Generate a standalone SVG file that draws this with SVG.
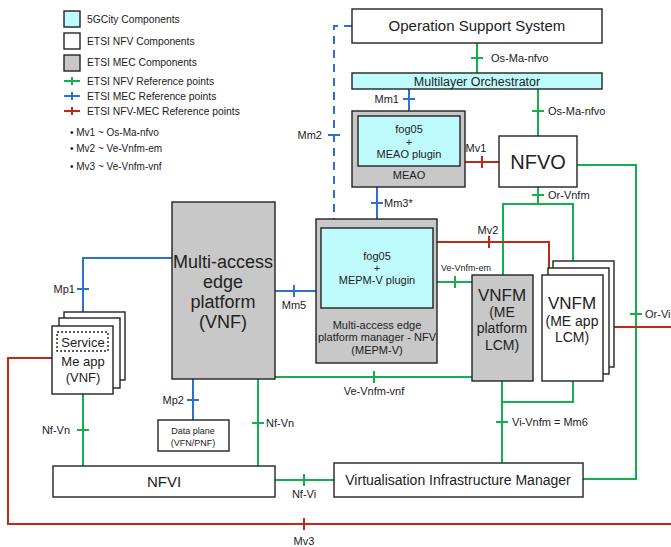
<svg xmlns="http://www.w3.org/2000/svg" width="671" height="547" viewBox="0 0 671 547">
<style>
text{font-family:"Liberation Sans",Arial,sans-serif;fill:#222}
.box{stroke:#222;stroke-width:1.4}
.w{fill:#fff}.g{fill:#c8c8c8}.c{fill:#bffbfc}
.ln{fill:none;stroke-width:2}
.gr{stroke:#12b04e}.bl{stroke:#2e6fd6}.rd{stroke:#c02818}
.m{text-anchor:middle}.e{text-anchor:end}
.s10{font-size:10.3px}.s11{font-size:11px}.s9{font-size:9px}
</style>
<rect width="671" height="547" fill="#fff"/>
<g id="legend">
<rect class="box c" x="64" y="11" width="16" height="16"/>
<rect class="box w" x="64" y="33" width="16" height="16"/>
<rect class="box g" x="64" y="55" width="16" height="16"/>
<text class="s10" x="87" y="23">5GCity Components</text>
<text class="s10" x="87" y="45">ETSI NFV Components</text>
<text class="s10" x="87" y="66">ETSI MEC Components</text>
<path class="ln gr" d="M64 81H80M72 77V85"/>
<path class="ln bl" d="M64 96H80M72 92V100"/>
<path class="ln rd" d="M64 111H80M72 107V115"/>
<text class="s10" x="87" y="85">ETSI NFV Reference points</text>
<text class="s10" x="87" y="100">ETSI MEC Reference points</text>
<text class="s10" x="87" y="115">ETSI NFV-MEC Reference points</text>
<text x="70" y="136" font-size="10">• Mv1 ~ Os-Ma-nfvo</text>
<text x="70" y="152" font-size="10">• Mv2 ~ Ve-Vnfm-em</text>
<text x="70" y="170" font-size="10">• Mv3 ~ Ve-Vnfm-vnf</text>
</g>
<g id="connectors">
<path class="ln gr" d="M477 43V73M471 58H483"/>
<text class="s11" x="491" y="62">Os-Ma-nfvo</text>
<path class="ln bl" d="M409 89V111M403 99H415"/>
<text class="s11 e" x="399" y="103">Mm1</text>
<path class="ln gr" d="M538 89V136M532 111H544"/>
<text class="s11" x="548" y="115">Os-Ma-nfvo</text>
<path class="ln rd" d="M465 162H499M482 156V168"/>
<text class="s11 m" x="476" y="152">Mv1</text>
<path class="ln gr" d="M577 165H636V479H583M630 314H642"/>
<text class="s11" x="645" y="318">Or-Vi</text>
<path class="ln gr" d="M538 187V204M503 275V204H573V275M532 195H544"/>
<text class="s11" x="548" y="199">Or-Vnfm</text>
<path class="ln rd" d="M437 242H549V273M489 236V248"/>
<text class="s11 m" x="488" y="234">Mv2</text>
<path class="ln gr" d="M437 282H472M455 276V288"/>
<text class="s9" x="441" y="271">Ve-Vnfm-em</text>
<path class="ln bl" d="M377 187V219M371 203H383"/>
<text class="s11" x="384" y="207">Mm3*</text>
<path class="ln bl" d="M352 26H334V219" stroke-dasharray="8,6"/>
<path class="ln bl" d="M328 135H340"/>
<text class="s11 e" x="322" y="139">Mm2</text>
<path class="ln rd" d="M603 327H671"/>
<path class="ln bl" d="M275 291H316M294 285V297"/>
<text class="s11 m" x="294" y="309">Mm5</text>
<path class="ln bl" d="M172 258H83V326M77 289H89"/>
<text class="s11 e" x="75" y="293">Mp1</text>
<path class="ln rd" d="M52 358H8V524H671M304 518V530"/>
<text class="s11 m" x="304" y="545">Mv3</text>
<path class="ln gr" d="M83 394V466M77 430H89"/>
<text class="s11 e" x="70" y="434">Nf-Vn</text>
<path class="ln bl" d="M193 379V420M187 400H199"/>
<text class="s11 e" x="184" y="404">Mp2</text>
<path class="ln gr" d="M258 379V466M252 423H264"/>
<text class="s11" x="266" y="427">Nf-Vn</text>
<path class="ln gr" d="M275 480H334M304 474V486"/>
<text class="s11 m" x="304" y="498">Nf-Vi</text>
<path class="ln gr" d="M275 377H472M374 371V383"/>
<text class="s11 m" x="374" y="395">Ve-Vnfm-vnf</text>
<path class="ln gr" d="M502 381V463M573 381V402H502M496 422H508"/>
<text class="s11" x="512" y="426">Vi-Vnfm = Mm6</text>
</g>
<g id="oss">
<rect class="box w" x="352" y="9" width="250" height="34"/>
<text class="m" x="477" y="31" font-size="15">Operation Support System</text>
</g>
<g id="orchestrator">
<rect class="box c" x="352" y="73" width="250" height="16"/>
<text class="m" x="477" y="85.5" font-size="12.5">Multilayer Orchestrator</text>
</g>
<g id="meao">
<rect class="box g" x="352" y="111" width="113" height="76"/>
<rect class="box c" x="358" y="116" width="102" height="50"/>
<text class="s11 m" x="409" y="133">fog05</text>
<text class="s11 m" x="409" y="146">+</text>
<text class="s11 m" x="409" y="158">MEAO plugin</text>
<text class="s11 m" x="409" y="179">MEAO</text>
</g>
<g id="nfvo">
<rect class="box w" x="499" y="136" width="78" height="51"/>
<text class="m" x="538" y="169" font-size="20">NFVO</text>
</g>
<g id="mepm">
<rect class="box g" x="316" y="219" width="121" height="144"/>
<rect class="box c" x="321" y="228" width="112" height="80"/>
<text class="s11 m" x="377" y="260">fog05</text>
<text class="s11 m" x="377" y="272">+</text>
<text class="s11 m" x="377" y="284">MEPM-V plugin</text>
<text class="s11 m" x="377" y="329">Multi-access edge</text>
<text class="s11 m" x="377" y="341">platform manager - NFV</text>
<text class="s11 m" x="377" y="354">(MEPM-V)</text>
</g>
<g id="vnfm-platform">
<rect class="box g" x="472" y="275" width="61" height="106"/>
<text class="m" x="502" y="301" font-size="17">VNFM</text>
<text class="m" x="502" y="317" font-size="14">(ME</text>
<text class="m" x="502" y="333" font-size="14">platform</text>
<text class="m" x="502" y="350" font-size="14">LCM)</text>
</g>
<g id="vnfm-app">
<rect class="box w" x="553" y="261" width="61" height="106"/>
<rect class="box w" x="548" y="268" width="61" height="106"/>
<rect class="box w" x="542" y="275" width="61" height="106"/>
<text class="m" x="572" y="309" font-size="17">VNFM</text>
<text class="m" x="572" y="326" font-size="14">(ME app</text>
<text class="m" x="572" y="342" font-size="14">LCM)</text>
</g>
<g id="mep">
<rect class="box g" x="172" y="202" width="103" height="177"/>
<text class="m" x="223" y="268" font-size="18">Multi-access</text>
<text class="m" x="223" y="288" font-size="18">edge</text>
<text class="m" x="223" y="308" font-size="18">platform</text>
<text class="m" x="223" y="328" font-size="18">(VNF)</text>
</g>
<g id="meapp">
<rect class="box w" x="64" y="312" width="61" height="68"/>
<rect class="box w" x="59" y="318" width="61" height="70"/>
<rect class="box w" x="52" y="326" width="61" height="68"/>
<rect x="57" y="332" width="51" height="19" fill="none" stroke="#222" stroke-width="1.4" stroke-dasharray="2,2"/>
<text class="m" x="83" y="347" font-size="13">Service</text>
<text class="m" x="83" y="366" font-size="13">Me app</text>
<text class="m" x="83" y="382" font-size="13">(VNF)</text>
</g>
<g id="dataplane">
<rect class="box w" x="158" y="420" width="71" height="31"/>
<text class="s9 m" x="193" y="434">Data plane</text>
<text class="s9 m" x="193" y="446">(VFN/PNF)</text>
</g>
<g id="nfvi">
<rect class="box w" x="53" y="466" width="222" height="31"/>
<text class="m" x="164" y="487" font-size="15">NFVI</text>
</g>
<g id="vim">
<rect class="box w" x="334" y="463" width="249" height="34"/>
<text class="m" x="458" y="485" font-size="14">Virtualisation Infrastructure Manager</text>
</g>
</svg>
